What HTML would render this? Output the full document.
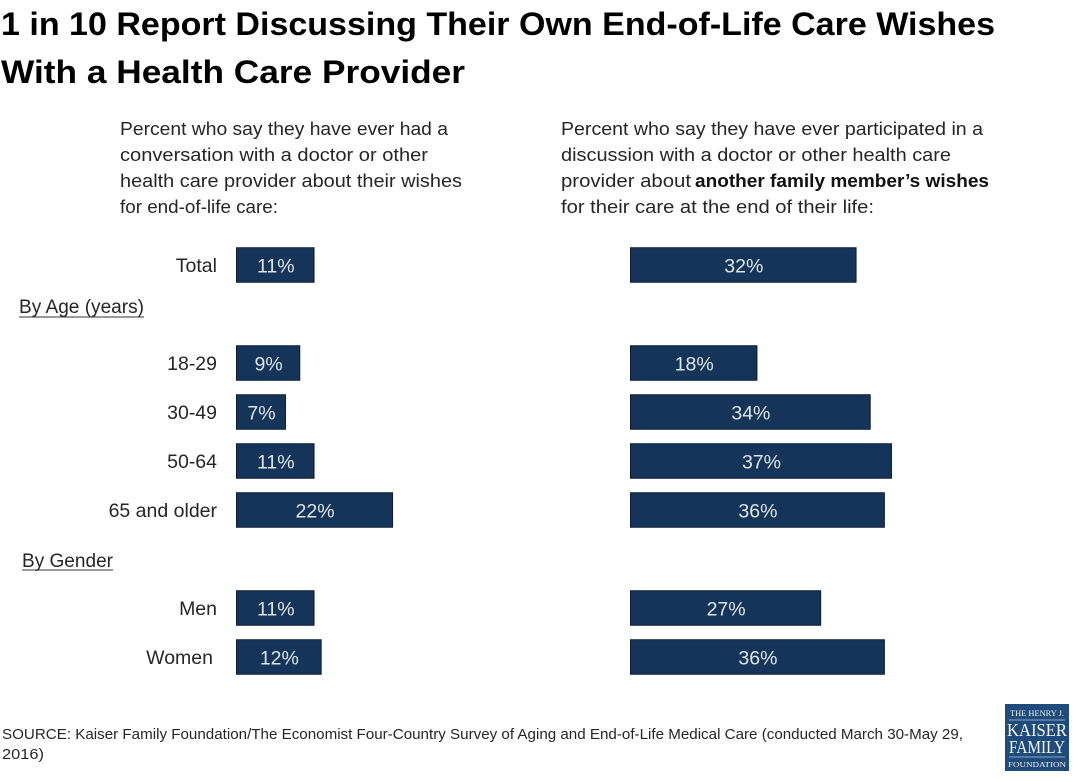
<!DOCTYPE html>
<html lang="en">
<head>
<meta charset="utf-8">
<title>1 in 10 Report Discussing Their Own End-of-Life Care Wishes</title>
<style>
  html, body { margin: 0; padding: 0; background: #fff; }
  svg { display: block; font-family: "Liberation Sans", sans-serif; }
  .title { font-size: 32px; font-weight: 700; fill: #000; }
  .para { font-size: 18.5px; fill: #262626; }
  .para-bold { font-size: 18.5px; fill: #111; font-weight: 700; }
  .cat { font-size: 19.5px; fill: #262626; }
  .group { font-size: 19px; fill: #262626; }
  .val { font-size: 19.5px; fill: #dfe5ec; text-anchor: middle; }
  .src { font-size: 14.5px; fill: #262626; }
</style>
</head>
<body>
<svg id="chart" xmlns="http://www.w3.org/2000/svg" width="1081" height="781" viewBox="0 0 1081 781">
  <rect x="0" y="0" width="1081" height="781" fill="#fff"/>
  <g>
    <text class="title" x="1" y="35" textLength="994" lengthAdjust="spacingAndGlyphs">1 in 10 Report Discussing Their Own End-of-Life Care Wishes</text>
    <text class="title" x="1" y="83" textLength="464" lengthAdjust="spacingAndGlyphs">With a Health Care Provider</text>
  </g>
  <g>
    <text class="para" x="120" y="135" textLength="328" lengthAdjust="spacingAndGlyphs">Percent who say they have ever had a</text>
    <text class="para" x="120" y="161" textLength="308" lengthAdjust="spacingAndGlyphs">conversation with a doctor or other</text>
    <text class="para" x="120" y="187" textLength="342" lengthAdjust="spacingAndGlyphs">health care provider about their wishes</text>
    <text class="para" x="120" y="213" textLength="158" lengthAdjust="spacingAndGlyphs">for end-of-life care:</text>
  </g>
  <g>
    <text class="para" x="561" y="135" textLength="422" lengthAdjust="spacingAndGlyphs">Percent who say they have ever participated in a</text>
    <text class="para" x="561" y="161" textLength="390" lengthAdjust="spacingAndGlyphs">discussion with a doctor or other health care</text>
    <text class="para" x="561" y="187" textLength="130" lengthAdjust="spacingAndGlyphs">provider about</text>
    <text class="para-bold" x="695" y="187" textLength="294" lengthAdjust="spacingAndGlyphs">another family member’s wishes</text>
    <text class="para" x="561" y="213" textLength="313" lengthAdjust="spacingAndGlyphs">for their care at the end of their life:</text>
  </g>
  <g>
    <text class="group" x="19" y="313" textLength="125" lengthAdjust="spacingAndGlyphs">By Age (years)</text>
    <line x1="19" x2="144" y1="317" y2="317" stroke="#333" stroke-width="1"/>
    <text class="group" x="22" y="567" textLength="91" lengthAdjust="spacingAndGlyphs">By Gender</text>
    <line x1="22" x2="113" y1="570" y2="570" stroke="#333" stroke-width="1"/>
  </g>
  <g id="marks"></g>
  <g>
    <text class="src" x="2" y="739" textLength="961" lengthAdjust="spacingAndGlyphs">SOURCE: Kaiser Family Foundation/The Economist Four-Country Survey of Aging and End-of-Life Medical Care (conducted March 30-May 29,</text>
    <text class="src" x="2" y="759" textLength="42" lengthAdjust="spacingAndGlyphs">2016)</text>
  </g>
  <g font-family="'Liberation Serif', serif" fill="#f2f5f8" text-anchor="middle">
    <rect x="1005" y="704" width="64" height="67" fill="#1f4a7c"/>
    <text x="1037" y="716" font-size="8" textLength="54" lengthAdjust="spacingAndGlyphs">THE HENRY J.</text>
    <line x1="1009" x2="1065" y1="720" y2="720" stroke="#b9c8da" stroke-width="0.8"/>
    <text x="1037" y="736" font-size="18" textLength="60" lengthAdjust="spacingAndGlyphs">KAISER</text>
    <text x="1037" y="753" font-size="18" textLength="56" lengthAdjust="spacingAndGlyphs">FAMILY</text>
    <line x1="1009" x2="1065" y1="757" y2="757" stroke="#b9c8da" stroke-width="0.8"/>
    <text x="1037" y="767" font-size="7.5" textLength="58" lengthAdjust="spacingAndGlyphs">FOUNDATION</text>
  </g>
</svg>
<script>
const categories = ["Total", null, "18-29", "30-49", "50-64", "65 and older", null, "Men", "Women"];
const ownWishes = [11, null, 9, 7, 11, 22, null, 11, 12];
const familyWishes = [32, null, 18, 34, 37, 36, null, 27, 36];

const SVG_NS = "http://www.w3.org/2000/svg";
const marks = document.getElementById("marks");
const BAR_HEIGHT = 34.5;

function rowCenter(i) { return 265 + 49 * i; }
function leftX(v) { return 236 + v * 7.14; }
function rightX(v) { return 630 + v * 7.08; }

function drawPanel(values, xScale, panelName) {
  values.forEach(function (v, i) {
    if (v === null) return;
    const x0 = xScale(0);
    const x1 = xScale(v);
    const cy = rowCenter(i);
    const rect = document.createElementNS(SVG_NS, "rect");
    rect.setAttribute("x", x0 + 0.5);
    rect.setAttribute("y", cy - BAR_HEIGHT / 2);
    rect.setAttribute("width", x1 - x0 - 1);
    rect.setAttribute("height", BAR_HEIGHT);
    rect.setAttribute("fill", "#14345a");
    rect.setAttribute("stroke", "#0c1c30");
    rect.setAttribute("stroke-width", "1");
    
    
    rect.setAttribute("aria-label", panelName + " " + categories[i]);
    marks.appendChild(rect);

    const label = document.createElementNS(SVG_NS, "text");
    label.setAttribute("class", "val");
    label.setAttribute("x", (x0 + x1) / 2 + 0.5);
    label.setAttribute("y", cy + 7.5);
    label.textContent = v + "%";
    
    
    marks.appendChild(label);
  });
}

function drawCategories() {
  categories.forEach(function (c, i) {
    if (c === null) return;
    const t = document.createElementNS(SVG_NS, "text");
    t.setAttribute("class", "cat");
    t.setAttribute("y", rowCenter(i) + 7);
    t.textContent = c;
    
    
    marks.appendChild(t);
    const w = t.getComputedTextLength();
    const right = c === "Women" ? 213 : 217;
    t.setAttribute("x", right - w);
  });
}

drawCategories();
drawPanel(ownWishes, leftX, "own wishes");
drawPanel(familyWishes, rightX, "family wishes");
</script>
</body>
</html>
